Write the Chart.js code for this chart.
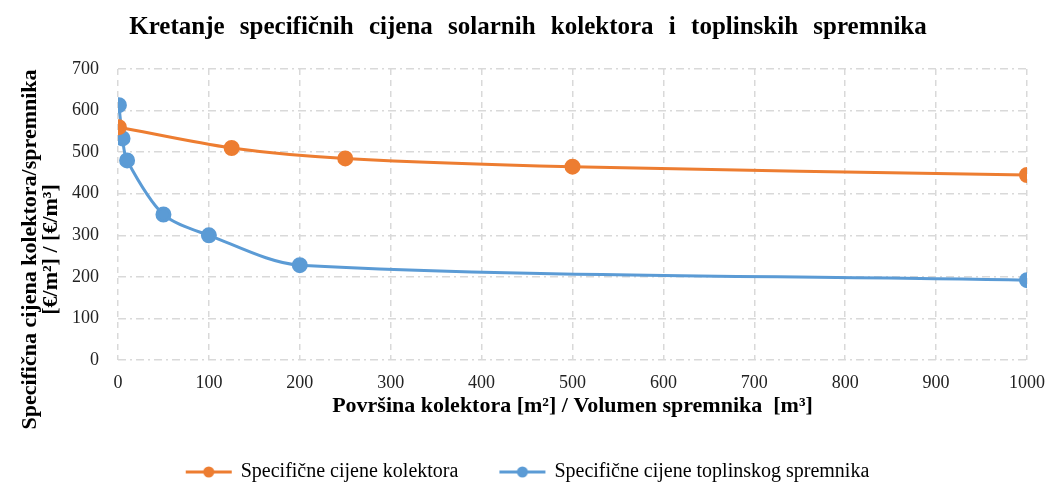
<!DOCTYPE html>
<html>
<head>
<meta charset="utf-8">
<script src="https://cdn.jsdelivr.net/npm/chart.js@4/dist/chart.umd.min.js"></script>
<style>
html,body{margin:0;padding:0;background:#fff;}
#wrap{width:1048px;height:483px;position:relative;}
</style>
</head>
<body>
<div id="wrap"><canvas id="c"></canvas></div>
<script>
const chartTitle = "Kretanje specifičnih cijena solarnih kolektora i toplinskih spremnika";
const xTitle = "Površina kolektora [m²] / Volumen spremnika  [m³]";
const yTitle = ["Specifična cijena kolektora/spremnika", "[€/m²] / [€/m³]"];
const seriesNames = ["Specifične cijene kolektora", "Specifične cijene toplinskog spremnika"];
const kolektorX = [1, 125, 250, 500, 1000];
const kolektorY = [560, 510, 485, 465, 445];
const spremnikX = [1, 5, 10, 50, 100, 200, 1000];
const spremnikY = [613, 533, 480, 350, 300, 228, 192];

const orange = "#ED7D31";
const blue = "#5B9BD5";

function toPts(xs, ys){ return xs.map((x,i)=>({x:x, y:ys[i]})); }

function legendIcon(color){
  const c = document.createElement('canvas');
  c.width = 48; c.height = 14;
  const g = c.getContext('2d');
  g.strokeStyle = color; g.lineWidth = 3;
  g.beginPath(); g.moveTo(1,7); g.lineTo(47,7); g.stroke();
  g.fillStyle = color;
  g.beginPath(); g.arc(24,7,5.5,0,Math.PI*2); g.fill();
  return c;
}

const font = "'Liberation Serif', 'Times New Roman', serif";

// Title drawn with slightly wider word spacing; y-axis title shifted down like the reference
const tweaks = {
  id: 'tweaks',
  afterLayout(chart){
    const t = chart.titleBlock;
    if (t && !t._wrapped){
      const orig = t.draw.bind(t);
      t.draw = function(){ const c = chart.ctx; const ws = c.wordSpacing; c.wordSpacing = '9px'; orig(); c.wordSpacing = ws || '0px'; };
      t._wrapped = true;
    }
    const y = chart.scales.y;
    if (y && !y._wrappedTitle){
      const origT = y.drawTitle.bind(y);
      y.drawTitle = function(){ const tp = this.top, bt = this.bottom; this.top = tp + 35; this.bottom = bt + 35; origT(); this.top = tp; this.bottom = bt; };
      y._wrappedTitle = true;
    }
  }
};

new Chart(document.getElementById('c'), {
  type: 'line',
  data: {
    datasets: [
      {label: seriesNames[0], data: toPts(kolektorX, kolektorY), borderColor: orange, backgroundColor: orange,
       borderWidth: 3, pointRadius: 6.5, pointHoverRadius: 6.5, tension: 0.3, pointStyle: 'circle'},
      {label: seriesNames[1], data: toPts(spremnikX, spremnikY), borderColor: blue, backgroundColor: blue,
       borderWidth: 3, pointRadius: 6.5, pointHoverRadius: 6.5, tension: 0.3, pointStyle: 'circle'}
    ]
  },
  plugins: [tweaks],
  options: {
    responsive: true,
    maintainAspectRatio: false,
    animation: false,
    layout: {padding: {left: 11, right: 3, top: 0, bottom: -9}},
    plugins: {
      title: {display: true, text: chartTitle, color: '#000', font: {family: font, size: 25, weight: 'bold'}, padding: {top: 13, bottom: 26}},
      legend: {
        position: 'bottom',
        labels: {
          usePointStyle: true,
          pointStyleWidth: 44,
          boxHeight: 14,
          padding: 42,
          color: '#000',
          font: {family: font, size: 20},
          generateLabels: (chart) => chart.data.datasets.map((ds, i) => ({
            text: ds.label, pointStyle: legendIcon(ds.borderColor), fillStyle: ds.borderColor,
            strokeStyle: ds.borderColor, lineWidth: 0, datasetIndex: i, hidden: false
          }))
        }
      },
      tooltip: {enabled: false}
    },
    scales: {
      x: {
        type: 'linear', min: 0, max: 1000,
        ticks: {stepSize: 100, color: '#222', font: {family: font, size: 18}, padding: 12, callback: (v) => String(v)},
        grid: {color: '#d9d9d9', lineWidth: 1.5, drawTicks: false},
        border: {display: false, dash: [6, 5]},
        title: {display: true, text: xTitle, color: '#000', font: {family: font, size: 22, weight: 'bold'}, padding: {top: -12, bottom: 0}},
        afterFit: (s) => { s.paddingRight = 21; }
      },
      y: {
        min: 0, max: 700,
        ticks: {stepSize: 100, color: '#222', font: {family: font, size: 18}, padding: 19},
        grid: {color: '#d9d9d9', lineWidth: 1.5, drawTicks: false},
        border: {display: false, dash: [8, 4, 2, 4]},
        title: {display: true, text: yTitle, color: '#000', font: {family: font, size: 22, weight: 'bold', lineHeight: 0.95}, padding: {top: 9, bottom: 0}},
        afterFit: (s) => { s.width = 107; }
      }
    }
  }
});
</script>
</body>
</html>
